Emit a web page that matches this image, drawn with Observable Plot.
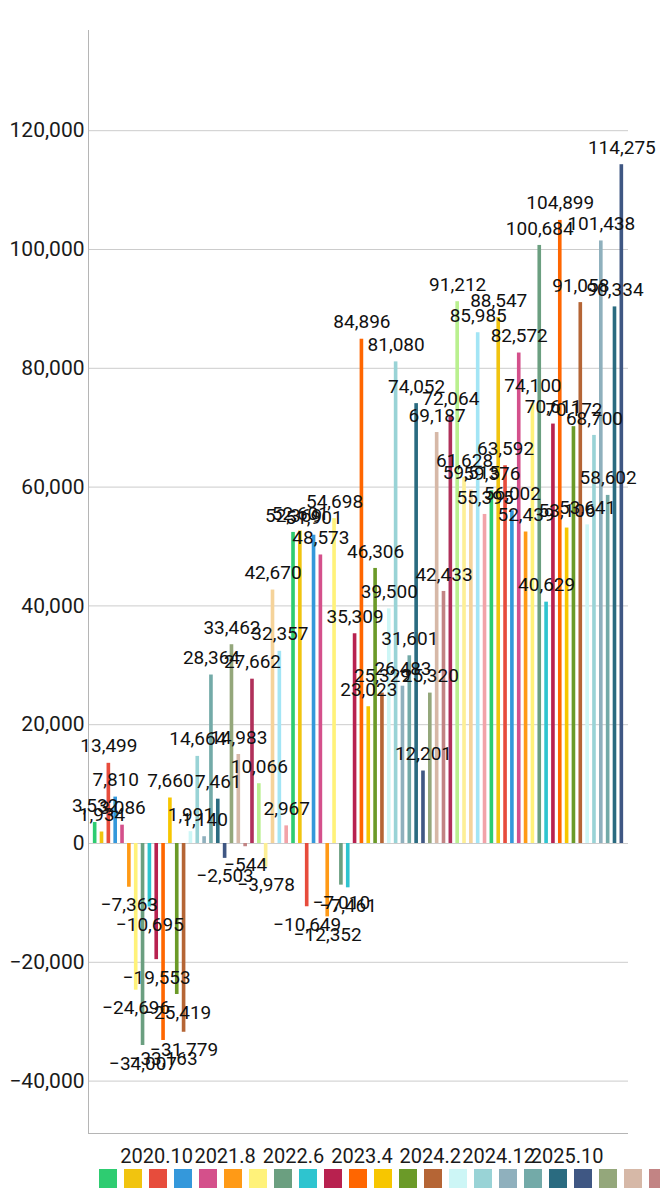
<!DOCTYPE html>
<html><head><meta charset="utf-8">
<script src="https://cdn.jsdelivr.net/npm/d3@7"></script>
<script src="https://cdn.jsdelivr.net/npm/@observablehq/plot@0.6"></script>
<style>
body{margin:0;background:#fff;font-family:Roboto,"Noto Sans",sans-serif;}
#legend{display:flex;gap:7px;padding-left:99px;margin-top:3px;overflow:hidden;width:660px;box-sizing:border-box;}
#legend span{flex:0 0 18px;height:19px;display:block;}
</style></head><body>
<div id="chart"></div>
<div id="legend"></div>
<script>
const months = [
"2020.1","2020.2","2020.3","2020.4","2020.5","2020.6","2020.7","2020.8","2020.9","2020.10","2020.11","2020.12",
"2021.1","2021.2","2021.3","2021.4","2021.5","2021.6","2021.7","2021.8","2021.9","2021.10","2021.11","2021.12",
"2022.1","2022.2","2022.3","2022.4","2022.5","2022.6","2022.7","2022.8","2022.9","2022.10","2022.11","2022.12",
"2023.1","2023.2","2023.3","2023.4","2023.5","2023.6","2023.7","2023.8","2023.9","2023.10","2023.11","2023.12",
"2024.1","2024.2","2024.3","2024.4","2024.5","2024.6","2024.7","2024.8","2024.9","2024.10","2024.11","2024.12",
"2025.1","2025.2","2025.3","2025.4","2025.5","2025.6","2025.7","2025.8","2025.9","2025.10","2025.11","2025.12",
"2026.1","2026.2","2026.3","2026.4","2026.5","2026.6"];
const values = [
3532,1934,13499,7810,3086,-7363,-24696,-34007,-10695,-19553,-33163,7660,
-25419,-31779,1991,14664,1140,28364,7461,-2503,33462,14983,-544,27662,
10066,-3978,42670,32357,2967,52369,52601,-10649,51901,48573,-12352,54698,
-7010,-7461,35309,84896,23023,46306,25329,39500,81080,26483,31601,74052,
12201,25320,69187,42433,72064,91212,61628,59515,85985,55395,59376,88547,
63592,56002,82572,52439,74100,100684,40629,70611,104899,53106,70172,91058,
53641,68700,101438,58602,90334,114275];
const xTickLabels = ["2020.10","2021.8","2022.6","2023.4","2024.2","2024.12","2025.10"];
const yTicks = [-40000,-20000,0,20000,40000,60000,80000,100000,120000];
const palette = ["#2ecc71","#f1c40f","#e74c3c","#3498db","#d4508b","#ff9a16","#fff27a","#6b9f80",
"#2ec4cf","#b8214f","#ff6600","#f7c600","#6b9a28","#b56535","#cdf6f6","#99d3d6","#8fb0bd","#73aaa8",
"#2a6b80","#3f5783","#94a77b","#d6b8a7","#c28484","#b0305a","#b9f08f","#fdef96","#f5d39a","#a3e5f5","#f2a3a8"];

const data = months.map((m, i) => ({month: m, value: values[i], color: palette[i % palette.length]}));
const fmt = d3.format(",");

const chart = Plot.plot({
  width: 660,
  height: 1166,
  marginTop: 30,
  marginBottom: 33,
  marginLeft: 88,
  marginRight: 32,
  style: {fontFamily: "Roboto, 'Noto Sans', sans-serif", background: "#fff", overflow: "visible"},
  x: {type: "band", domain: months, paddingInner: 0.47, paddingOuter: 0.71},
  y: {domain: [-48822, 136869]},
  color: {type: "identity"},
  marks: [
    Plot.gridY(yTicks, {stroke: "#cccccc", strokeOpacity: 1}),
    Plot.ruleY([-48822], {stroke: "#b5b5b5"}),
    Plot.frame({anchor: "left", stroke: "#b5b5b5"}),
    Plot.barY(data, {x: "month", y: "value", fill: "color"}),
    Plot.axisY(yTicks, {tickSize: 0, tickPadding: 4, tickFormat: fmt, fontSize: 21, fill: "#1a1a1a", label: null}),
    Plot.axisX(xTickLabels, {tickSize: 0, tickPadding: 15, fontSize: 20, fill: "#1a1a1a", label: null}),
    Plot.text(data.filter(d => d.value >= 0), {x: "month", y: "value", text: d => fmt(d.value), dy: -17, fontSize: 19, fill: "#111"}),
    Plot.text(data.filter(d => d.value < 0), {x: "month", y: "value", text: d => fmt(d.value), dy: 18, fontSize: 19, fill: "#111"})
  ]
});
document.getElementById("chart").appendChild(chart);

const legend = document.getElementById("legend");
data.forEach(d => {
  const s = document.createElement("span");
  s.style.background = d.color;
  s.title = d.month;
  legend.appendChild(s);
});
</script>
</body></html>
